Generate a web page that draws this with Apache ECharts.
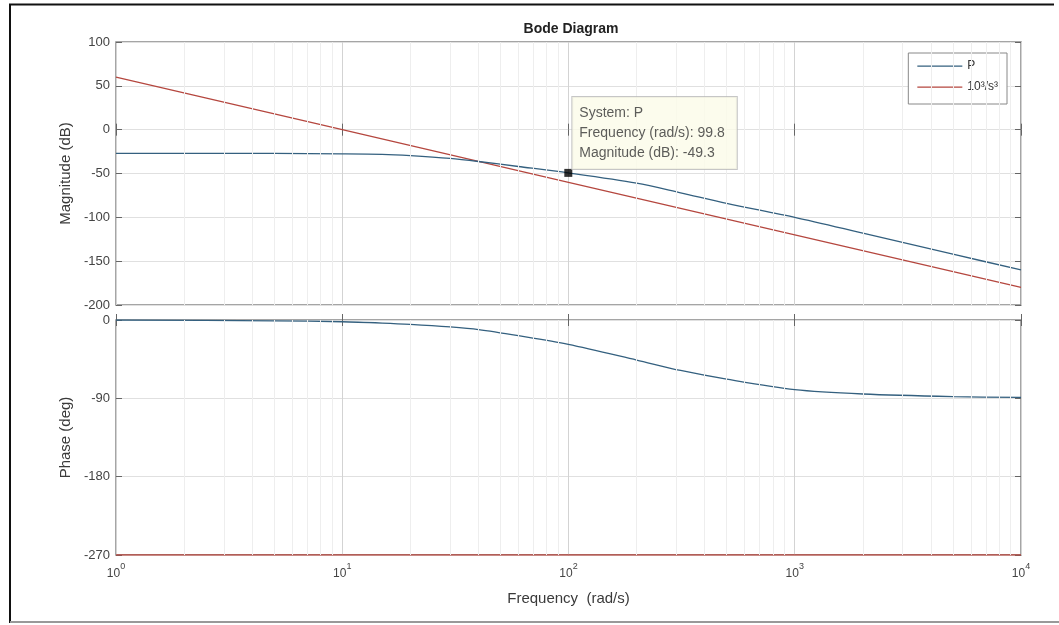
<!DOCTYPE html>
<html>
<head>
<meta charset="utf-8">
<script src="https://cdn.jsdelivr.net/npm/echarts@6/dist/echarts.min.js"></script>
<style>
html,body{margin:0;padding:0;background:#fff;}
#c{width:1059px;height:625px;}
</style>
</head>
<body>
<div id="c"></div>
<script>
// ---- data ----
const freqP = [1, 5, 10, 15, 20, 30, 40, 60, 99.8, 200, 313, 500, 1000, 2000, 5000, 10000];
const magP = [-27, -27.1, -27.5, -28.1, -29.6, -32.8, -36.3, -42, -49.3, -61, -72, -84, -100, -118, -142, -160];
const phaseP = [0, -1, -2, -3.5, -5, -8, -11, -18, -28, -46, -58, -68, -80, -85, -88, -89];
const freqRef = [1, 10, 100, 1000, 10000];
const magRef = [60, 0, -60, -120, -180];
const phaseRef = [-270, -270, -270, -270, -270];
const decades = [1, 10, 100, 1000, 10000];
const cursorPoint = { sys: 'P', freq: 99.8, mag: -49.3 };
const seriesNames = ['P', '10\u00b3/s\u00b3'];

const FONT = 'Liberation Sans, Arial, sans-serif';
const colP = '#34607f';
const colRef = '#b5473f';
const txt = '#3a3a3a';

// minor grid positions (2..9 x decade)
const minorVals = [];
decades.slice(0, -1).forEach(d => { for (let k = 2; k <= 9; k++) minorVals.push(d * k); });

function zip(xs, ys) { return xs.map((x, i) => [x, ys[i]]); }

function supLabel(v) {
  const e = Math.round(Math.log10(v));
  return '{b|10}{s|' + e + '}';
}

// thin line legend icon (invisible corner specks keep a 45x14 box)
const lineIcon = 'path://M0,6.4h45v1.3h-45z M0,0h0.01v0.01h-0.01z M44.99,13.99h0.01v0.01h-0.01z';

const tickStyle = { show: true, inside: true, length: 6, lineStyle: { color: '#666' } };

const xCommon = {
  type: 'log', logBase: 10, min: 1, max: 10000,
  axisLine: { show: false },
  axisTick: tickStyle,
  splitLine: { show: true, lineStyle: { color: '#d3d3d3', width: 1 } }
};
const xTop = {
  type: 'log', logBase: 10, min: 1, max: 10000, position: 'top',
  axisLine: { show: false }, axisTick: tickStyle,
  axisLabel: { show: false }, splitLine: { show: false }
};

const minorMark = {
  silent: true, symbol: 'none', animation: false,
  label: { show: false },
  lineStyle: { color: '#eeeeee', width: 1, type: 'solid' },
  data: minorVals.map(v => ({ xAxis: v }))
};

const yCommon = {
  type: 'value',
  nameLocation: 'middle', nameGap: 42,
  nameTextStyle: { fontSize: 15, color: txt, fontFamily: FONT },
  axisLine: { show: false },
  axisTick: tickStyle,
  axisLabel: { fontSize: 13, color: '#444', margin: 6, fontFamily: FONT },
  splitLine: { show: true, lineStyle: { color: '#e0e0e0' } }
};
const yRight = {
  type: 'value', position: 'right',
  axisLine: { show: false }, axisTick: tickStyle,
  axisLabel: { show: false }, splitLine: { show: false }
};

const chart = echarts.init(document.getElementById('c'), null, { renderer: 'canvas' });
chart.setOption({
  animation: false,
  backgroundColor: '#fff',
  textStyle: { fontFamily: FONT },
  title: {
    text: 'Bode Diagram', left: 566, top: 17, textAlign: 'center',
    textStyle: { fontSize: 14, fontWeight: 'bold', color: '#222', fontFamily: FONT }
  },
  legend: {
    orient: 'vertical', right: 52, top: 53,
    data: seriesNames.map(n => ({ name: n, icon: lineIcon })),
    itemWidth: 45, itemHeight: 14, itemGap: 7,
    padding: [6, 9, 10, 9],
    borderColor: '#888', borderWidth: 1, backgroundColor: '#fff',
    textStyle: { fontSize: 12, color: '#333', fontFamily: FONT, padding: [3, 0, 0, 0] }
  },
  graphic: [
    { type: 'polyline', shape: { points: [[10, 623], [10, 4.5], [1054, 4.5]] }, style: { stroke: '#111', lineWidth: 2, fill: null } },
    { type: 'line', shape: { x1: 10, y1: 622, x2: 1059, y2: 622 }, style: { stroke: '#999', lineWidth: 2 } }
  ],
  grid: [
    { left: 116, right: 38, top: 42, height: 263, show: true, borderColor: '#888', borderWidth: 1.5, backgroundColor: 'transparent' },
    { left: 116, right: 38, top: 320, height: 235, show: true, borderColor: '#888', borderWidth: 1.5, backgroundColor: 'transparent' }
  ],
  xAxis: [
    Object.assign({}, xCommon, { gridIndex: 0, axisLabel: { show: false } }),
    Object.assign({}, xCommon, {
      gridIndex: 1,
      name: 'Frequency  (rad/s)', nameLocation: 'middle', nameGap: 36,
      nameTextStyle: { fontSize: 15, color: txt, fontFamily: FONT },
      axisLabel: {
        show: true, margin: 7, formatter: supLabel,
        rich: {
          b: { fontSize: 12, color: '#444', fontFamily: FONT, padding: [6, 0, 0, 0] },
          s: { fontSize: 9, color: '#444', fontFamily: FONT, verticalAlign: 'top', padding: [0, 0, 4, 0] }
        }
      }
    }),
    Object.assign({}, xTop, { gridIndex: 0 }),
    Object.assign({}, xTop, { gridIndex: 1 })
  ],
  yAxis: [
    Object.assign({}, yCommon, { gridIndex: 0, min: -200, max: 100, interval: 50, name: 'Magnitude (dB)' }),
    Object.assign({}, yCommon, { gridIndex: 1, min: -270, max: 0, interval: 90, name: 'Phase (deg)' }),
    Object.assign({}, yRight, { gridIndex: 0, min: -200, max: 100, interval: 50 }),
    Object.assign({}, yRight, { gridIndex: 1, min: -270, max: 0, interval: 90 })
  ],
  series: [
    {
      name: seriesNames[1], type: 'line', xAxisIndex: 0, yAxisIndex: 0,
      data: zip(freqRef, magRef), symbol: 'none',
      lineStyle: { color: colRef, width: 1.3 }, itemStyle: { color: colRef },
      markLine: minorMark, z: 2
    },
    {
      name: seriesNames[0], type: 'line', xAxisIndex: 0, yAxisIndex: 0,
      data: zip(freqP, magP), symbol: 'none', smooth: 0.3,
      lineStyle: { color: colP, width: 1.3 }, itemStyle: { color: colP }, z: 3
    },
    {
      name: 'cursor', type: 'scatter', xAxisIndex: 0, yAxisIndex: 0,
      data: [[cursorPoint.freq, cursorPoint.mag]],
      symbol: 'rect', symbolSize: 8, itemStyle: { color: '#000' }, z: 10, silent: true,
      label: {
        show: true, position: [8, 0], align: 'left', verticalAlign: 'bottom',
        formatter: 'System: ' + cursorPoint.sys + '\nFrequency (rad/s): ' + cursorPoint.freq + '\nMagnitude (dB): ' + cursorPoint.mag,
        backgroundColor: '#fbfbe9', borderColor: '#b8b8b8', borderWidth: 1,
        padding: [6, 12, 6, 7], lineHeight: 20,
        fontSize: 14, color: '#333', fontFamily: FONT
      }
    },
    {
      name: seriesNames[1], type: 'line', xAxisIndex: 1, yAxisIndex: 1,
      data: zip(freqRef, phaseRef), symbol: 'none',
      lineStyle: { color: colRef, width: 1.3 }, itemStyle: { color: colRef },
      markLine: minorMark, z: 2
    },
    {
      name: seriesNames[0], type: 'line', xAxisIndex: 1, yAxisIndex: 1,
      data: zip(freqP, phaseP), symbol: 'none', smooth: 0.3,
      lineStyle: { color: colP, width: 1.3 }, itemStyle: { color: colP }, z: 3
    }
  ]
});
</script>
</body>
</html>
